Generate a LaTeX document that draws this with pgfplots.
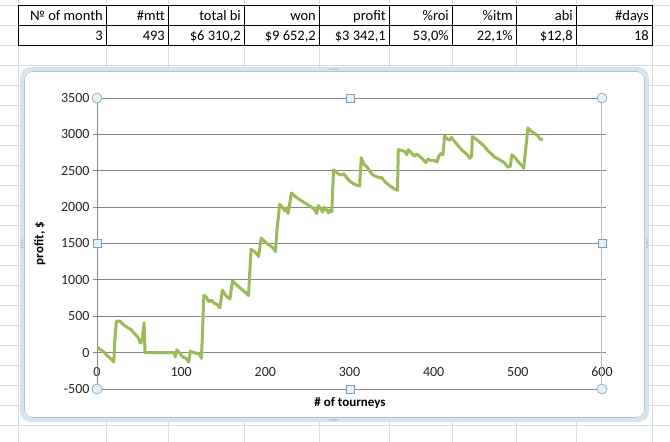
\documentclass[border=0pt]{standalone}
\usepackage{pgfplots}
\pgfplotsset{compat=1.18}
\usepackage{fontspec}
\setmainfont{Carlito}
\definecolor{xlgrid}{HTML}{DADCDD}
\definecolor{gridgray}{HTML}{868686}
\definecolor{linegreen}{HTML}{9BBB59}
\definecolor{frameblue}{HTML}{D3E6EE}
\definecolor{frameline}{HTML}{A9C6D3}
\definecolor{handlefill}{HTML}{E3F1F8}
\definecolor{handledraw}{HTML}{7F9DB9}
\begin{document}
\begin{tikzpicture}
\fill[white] (0pt,0pt) rectangle (670pt,-442pt);
\path[use as bounding box] (0pt,0pt) rectangle (670pt,-442pt);
% sheet grid
\foreach \x in {18,106,168,244,319,389,452,516,576,652} \draw[xlgrid, line width=1pt] (\x pt,0pt) -- (\x pt,-442pt);
\foreach \y in {5,25,...,425} \draw[xlgrid, line width=1pt] (0pt,-\y pt) -- (670pt,-\y pt);
% table
\draw[black, line width=0.9pt] (18pt,-5pt) rectangle (652pt,-45pt);
\draw[black, line width=0.9pt] (18pt,-25pt) -- (652pt,-25pt);
\foreach \x in {106,168,244,319,389,452,516,576} \draw[black, line width=0.9pt] (\x pt,-5pt) -- (\x pt,-45pt);
\begin{scope}[every node/.style={anchor=base east, inner sep=0pt, font=\fontsize{14.5}{16}\selectfont}]
\node at (103pt,-20pt) {№ of month};
\node at (165pt,-20pt) {\#mtt};
\node at (241pt,-20pt) {total bi};
\node at (316pt,-20pt) {won};
\node at (386pt,-20pt) {profit};
\node at (449pt,-20pt) {\%roi};
\node at (513pt,-20pt) {\%itm};
\node at (573pt,-20pt) {abi};
\node at (649pt,-20pt) {\#days};
\node at (103pt,-40pt) {3};
\node at (165pt,-40pt) {493};
\node at (241pt,-40pt) {\$6 310,2};
\node at (316pt,-40pt) {\$9 652,2};
\node at (386pt,-40pt) {\$3 342,1};
\node at (449pt,-40pt) {53,0\%};
\node at (513pt,-40pt) {22,1\%};
\node at (573pt,-40pt) {\$12,8};
\node at (649pt,-40pt) {18};
\end{scope}
% chart frame
\fill[white, rounded corners=9pt] (21pt,-68pt) rectangle (648pt,-421pt);
\draw[frameblue, line width=4pt, rounded corners=9pt] (22pt,-69pt) rectangle (647pt,-420pt);
\draw[frameline, line width=0.7pt, rounded corners=8pt] (24.5pt,-71.5pt) rectangle (644.5pt,-417.5pt);
\foreach \d in {0,2.5,5,7.5} {
  \fill[gray] (330pt+\d pt,-69pt) circle (0.6pt);
  \fill[gray] (330pt+\d pt,-420pt) circle (0.6pt);
  \fill[gray] (22pt,-240pt-\d pt) circle (0.6pt);
  \fill[gray] (647pt,-240pt-\d pt) circle (0.6pt);
}
\begin{axis}[
  at={(97pt,-389pt)}, anchor=south west,
  width=505pt, height=291pt, scale only axis,
  xmin=0, xmax=600, ymin=-500, ymax=3500,
  xtick={0,100,200,300,400,500,600},
  xticklabels={0,100,200,300,400,500,600},
  ytick={-500,0,500,1000,1500,2000,2500,3000,3500},
  yticklabels={-500,0,500,1000,1500,2000,2500,3000,3500},
  axis line style={draw=none},
  ymajorgrids, major grid style={gridgray, line width=0.9pt},
  xtick style={draw=none},
  ytick style={gridgray, line width=0.8pt},
  tick align=outside, major tick length=4pt,
  tick label style={font=\fontsize{14}{16}\selectfont, text=black!85},
  xticklabel style={yshift=29pt},
  xlabel={\textbf{\# of tourneys}},
  xlabel style={at={(axis description cs:0.501,-0.047)}, anchor=center, font=\fontsize{13}{15}\selectfont},
  ylabel={\textbf{profit, \$}},
  ylabel style={at={(axis description cs:-0.113,0.5)}, anchor=center, font=\fontsize{13}{15}\selectfont},
]
\draw[gridgray, line width=0.9pt] (axis cs:0,-500) -- (axis cs:0,3500);
\draw[gray!55, line width=1.2pt] (axis cs:600,-500) -- (axis cs:600,3500);
\addplot[linegreen, line width=3pt, line join=round, mark=none] coordinates {
(0,80) (3,50) (8,10) (12,-40) (16,-80) (20,-128) (21,150) (23,430) (27,435)
(30,400) (33,370) (37,340) (40,320) (44,270) (48,220) (52,130) (54,200) (56,410) (57,0)
(92,0) (93,-60) (95,40) (99,-20) (102,-60) (106,-80) (109,-130) (111,20) (115,0)
(119,-10) (122,-20) (124,-80) (125,180) (127,790) (130,760) (133,700) (136,720)
(139,680) (143,660) (146,615) (149,860) (152,800) (155,760) (158,740) (161,985)
(165,940) (169,900) (173,860) (177,820) (180,785) (183,1420) (186,1400) (189,1370)
(192,1320) (195,1575) (199,1530) (203,1490) (207,1460) (210,1430) (212,1390)
(214,1700) (217,2040) (220,2000) (223,1950) (225,1990) (227,1910) (231,2195)
(235,2150) (240,2110) (244,2080) (248,2050) (252,2020) (256,1990) (259,1960)
(261,1910) (263,2020) (266,1980) (268,1930) (270,2000) (273,1960) (275,1920)
(277,1960) (279,1940) (281,2510) (285,2470) (288,2450) (290,2440) (293,2460)
(297,2400) (301,2350) (305,2320) (309,2300) (312,2290) (314,2680) (317,2590)
(321,2550) (325,2480) (328,2440) (332,2420) (336,2400) (338,2410) (342,2350)
(347,2300) (352,2260) (357,2230) (358,2790) (362,2780) (366,2760) (368,2720)
(370,2790) (374,2740) (377,2700) (380,2730) (384,2690) (388,2650) (391,2610)
(393,2660) (397,2640) (401,2640) (404,2620) (406,2700) (409,2740) (411,2720)
(413,2980) (416,2940) (419,2920) (421,2960) (425,2900) (430,2830) (435,2770)
(440,2720) (443,2670) (445,2700) (446,2970) (450,2940) (455,2890) (460,2840)
(464,2780) (468,2740) (472,2690) (477,2660) (480,2640) (484,2610) (488,2550)
(491,2560) (493,2720) (496,2690) (500,2630) (504,2580) (507,2535) (509,2760)
(512,3090) (516,3040) (520,3010) (524,2980) (526,2940) (528,2930) (530,2935)
};
\end{axis}
% selection handles
\foreach \p in {(97pt,-98pt),(602pt,-98pt),(97pt,-389pt),(602pt,-389pt)}
  \filldraw[fill=handlefill, draw=handledraw, line width=0.6pt] \p circle (5pt);
\foreach \p in {(350pt,-98pt),(350pt,-389pt),(97pt,-243.5pt),(602pt,-243.5pt)}
  \filldraw[fill=handlefill, draw=handledraw, line width=0.6pt] \p ++(-4pt,-4pt) rectangle ++(8pt,8pt);
\end{tikzpicture}
\end{document}
